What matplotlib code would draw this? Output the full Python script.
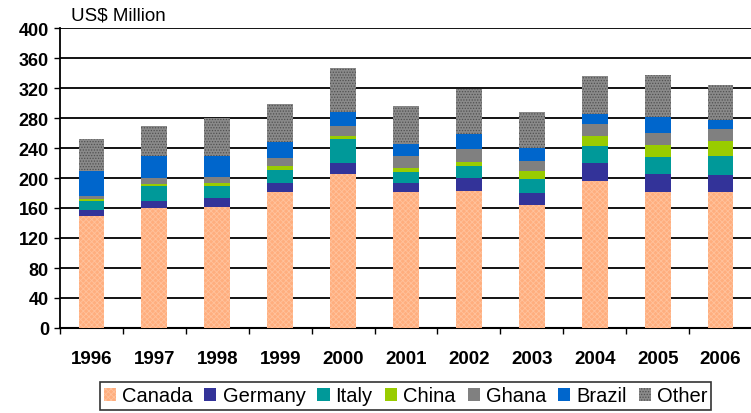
import matplotlib.pyplot as plt
import numpy as np

years = ['1996', '1997', '1998', '1999', '2000', '2001', '2002', '2003', '2004', '2005', '2006']
canada = [150, 159.5, 161, 181, 206, 181, 183, 163.5, 195.5, 181, 181]
germany = [8, 9.5, 12, 12, 14.5, 13, 17.5, 16, 25, 25, 23.5]
italy = [11, 20, 16, 18, 32, 14.5, 16, 19.5, 22.5, 22.5, 25]
china = [2.5, 2.5, 4, 5.5, 4, 5.5, 5.5, 11, 13.5, 16, 20]
ghana = [4, 8, 9, 10.5, 13, 16, 17, 13, 15.5, 16, 16]
brazil = [34.5, 30.5, 28, 21.5, 18.5, 16, 20, 17, 13.5, 21, 12]
other = [42, 40, 50, 50.5, 58.5, 50, 60, 48, 50.5, 55.5, 46.5]

series = [
    ('Canada', canada, '#FFAE7E', 'xxxxxx', '#FFC29C'),
    ('Germany', germany, '#333399', None, None),
    ('Italy', italy, '#009999', None, None),
    ('China', china, '#99CC00', None, None),
    ('Ghana', ghana, '#808080', None, None),
    ('Brazil', brazil, '#0066CC', None, None),
    ('Other', other, '#8A8A8A', '......', '#505050'),
]

plt.rcParams['font.family'] = ['Liberation Sans', 'DejaVu Sans']
plt.rcParams['hatch.linewidth'] = 0.6

fig = plt.figure(figsize=(7.51, 4.14), dpi=100)
ax = fig.add_axes([60 / 751, 85 / 414, 692 / 751, 300 / 414])

x = np.arange(len(years))
bottom = np.zeros(len(years))
for name, vals, color, hatch, hcolor in series:
    vals = np.array(vals)
    if hatch:
        ax.bar(x, vals, 0.41, bottom=bottom, color=color, hatch=hatch,
               edgecolor=hcolor, linewidth=0, label=name, zorder=3)
    else:
        ax.bar(x, vals, 0.41, bottom=bottom, color=color, linewidth=0,
               label=name, zorder=3)
    bottom += vals

ax.set_ylim(0, 400)
ax.set_xlim(-0.5, len(years) - 0.5)
ax.set_yticks(range(0, 401, 40))
ax.yaxis.grid(True, color='black', linewidth=1.3, zorder=0)
ax.set_axisbelow(True)

ax.set_xticks(x)
ax.set_xticklabels(years, fontsize=13.5, fontweight='bold')
ax.set_xticks(np.arange(-0.5, len(years)), minor=True)
ax.tick_params(axis='x', which='major', length=0, pad=15.5)
ax.tick_params(axis='x', which='minor', length=4, width=1, direction='out')
ax.tick_params(axis='y', length=4, width=1, labelsize=13, pad=4)
for lab in ax.get_yticklabels():
    lab.set_fontweight('bold')

ax.spines['top'].set_visible(False)
ax.spines['right'].set_visible(False)
ax.spines['left'].set_linewidth(1.3)
ax.spines['bottom'].set_linewidth(1.5)

fig.text(71 / 751, 1 - 16 / 414, 'US$ Million', fontsize=13.5, va='center', ha='left')

leg = fig.legend(loc='center', bbox_to_anchor=(405.5 / 751, 1 - 397 / 414), ncol=7,
                 fontsize=14.5, frameon=True, fancybox=False, handlelength=0.6,
                 handleheight=0.6, handletextpad=0.3, columnspacing=0.6,
                 borderpad=0.2, borderaxespad=0)
leg.get_frame().set_edgecolor('black')
leg.get_frame().set_linewidth(1.2)

fig.savefig('out.png', dpi=100)
